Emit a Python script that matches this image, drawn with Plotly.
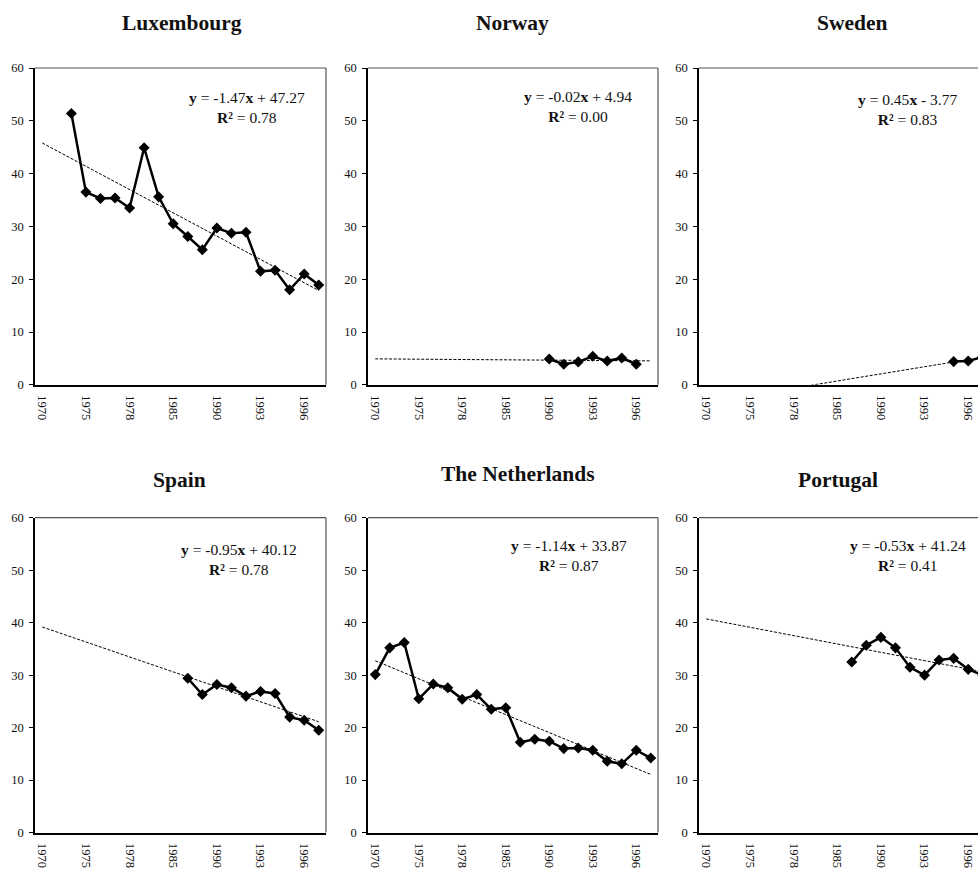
import plotly.graph_objects as go

# Category axis (only every third year is labelled)
years = ["1970", "1972", "1974", "1975", "1976", "1977", "1978", "1980", "1983", "1985",
         "1987", "1989", "1990", "1991", "1992", "1993", "1994", "1995", "1996", "1997"]
label_years = ["1970", "1975", "1978", "1985", "1990", "1993", "1996"]

countries = ["Luxembourg", "Norway", "Sweden", "Spain", "The Netherlands", "Portugal"]

luxembourg = [None, None, 51.4, 36.5, 35.3, 35.4, 33.5, 44.9, 35.6, 30.5,
              28.1, 25.6, 29.7, 28.7, 28.9, 21.5, 21.7, 18.0, 21.0, 18.9]
norway = [None, None, None, None, None, None, None, None, None, None,
          None, None, 4.9, 3.9, 4.35, 5.4, 4.5, 5.1, 3.9, None]
sweden = [None, None, None, None, None, None, None, None, None, None,
          None, None, None, None, None, None, None, 4.4, 4.5, 5.3]
spain = [None, None, None, None, None, None, None, None, None, None,
         29.4, 26.3, 28.2, 27.6, 26.0, 26.9, 26.5, 22.0, 21.4, 19.5]
netherlands = [30.1, 35.2, 36.2, 25.5, 28.3, 27.6, 25.4, 26.3, 23.5, 23.8,
               17.2, 17.8, 17.4, 16.0, 16.1, 15.7, 13.6, 13.1, 15.7, 14.2]
portugal = [None, None, None, None, None, None, None, None, None, None,
            32.5, 35.7, 37.2, 35.2, 31.5, 30.0, 32.9, 33.2, 31.1, 30.0]

series = [luxembourg, norway, sweden, spain, netherlands, portugal]

# Linear trend y = slope * x + intercept, x = category number (1..20)
slopes = [-1.47, -0.02, 0.45, -0.95, -1.14, -0.53]
intercepts = [47.27, 4.94, -3.77, 40.12, 33.87, 41.24]
r_squared = [0.78, 0.00, 0.83, 0.78, 0.87, 0.41]

W, H = 978, 875
FONT = "Liberation Serif, Times New Roman, serif"
INK = "#111111"


def fx(px):
    return px / W


def fy(py):
    return 1 - py / H


# panel geometry in pixels: (left, right, top, bottom)
col_px = [(35, 326), (368, 658), (699, 978)]
row_px = [(62, 384), (519, 839)]
cat_w = 14.55
title_px = [(182, 16), (512, 16), (852, 16), (179, 481), (518, 475), (838, 481)]
eq_px = [(247, 102), (578, 101), (907, 104), (239, 561), (569, 557), (908, 557)]

fig = go.Figure()
shapes = []
annotations = []

for k, name in enumerate(countries):
    r, c = divmod(k, 3)
    sfx = "" if k == 0 else str(k + 1)
    xa, ya = "x" + sfx, "y" + sfx

    trend = [slopes[k] * (i + 1) + intercepts[k] for i in range(len(years))]
    fig.add_trace(go.Scatter(
        x=years, y=trend, mode="lines", xaxis=xa, yaxis=ya,
        line=dict(color="black", width=1, dash="3px,1.6px"), hoverinfo="skip"))
    fig.add_trace(go.Scatter(
        x=years, y=series[k], mode="lines+markers", xaxis=xa, yaxis=ya,
        line=dict(color="black", width=2.5),
        marker=dict(symbol="diamond", size=8.5, color="black"), name=name))

    left, right = col_px[c]
    top, bottom = row_px[r]
    x_hi = -0.5 + (right - left) / cat_w if c == 2 else len(years) - 0.5

    fig.layout["xaxis" + sfx] = dict(
        domain=[fx(left), fx(right)], anchor=ya, type="category",
        categoryorder="array", categoryarray=years, range=[-0.5, x_hi],
        tickmode="array", tickvals=label_years, ticktext=label_years,
        tickangle=90, ticks="outside", ticklen=6, tickcolor="rgba(0,0,0,0)",
        showline=True, linecolor="black", linewidth=1.6,
        showgrid=False, zeroline=False,
        tickfont=dict(family=FONT, size=12.5, color=INK))
    fig.layout["yaxis" + sfx] = dict(
        domain=[fy(bottom), fy(top)], anchor=xa, range=[0, 60], dtick=10,
        ticks="outside", ticklen=4, tickwidth=1, tickcolor="black",
        ticklabelstandoff=3,
        showline=True, linecolor="black", linewidth=1.6,
        showgrid=False, zeroline=False,
        tickfont=dict(family=FONT, size=12.5, color=INK))

    # gray frame on top (and right, where the panel fits)
    shapes.append(dict(type="line", xref=xa + " domain", yref=ya + " domain",
                       x0=0, x1=1, y0=1, y1=1,
                       line=dict(color="#555555", width=1.2)))
    if c < 2:
        shapes.append(dict(type="line", xref=xa + " domain", yref=ya + " domain",
                           x0=1, x1=1, y0=0, y1=1,
                           line=dict(color="#555555", width=1.2)))

    tx, ty = title_px[k]
    annotations.append(dict(
        text="<b>%s</b>" % name, xref="paper", yref="paper",
        x=fx(tx), y=fy(ty), xanchor="center", yanchor="middle", showarrow=False,
        font=dict(family=FONT, size=21.5, color=INK)))

    # trend equation with R² beneath it
    m, b = slopes[k], intercepts[k]
    sign = "+" if b >= 0 else "-"
    eq = "<b>y</b> = %.2f<b>x</b> %s %.2f<br><b>R²</b> = %.2f" % (m, sign, abs(b), r_squared[k])
    ex, ey = eq_px[k]
    annotations.append(dict(
        text=eq, xref="paper", yref="paper", x=fx(ex), y=fy(ey),
        xanchor="center", yanchor="middle", showarrow=False, align="center",
        font=dict(family=FONT, size=15.5, color=INK)))

fig.update_layout(
    width=W, height=H, margin=dict(l=0, r=0, t=0, b=0),
    paper_bgcolor="white", plot_bgcolor="white", showlegend=False,
    shapes=shapes, annotations=annotations)

fig.write_html("out.html")
